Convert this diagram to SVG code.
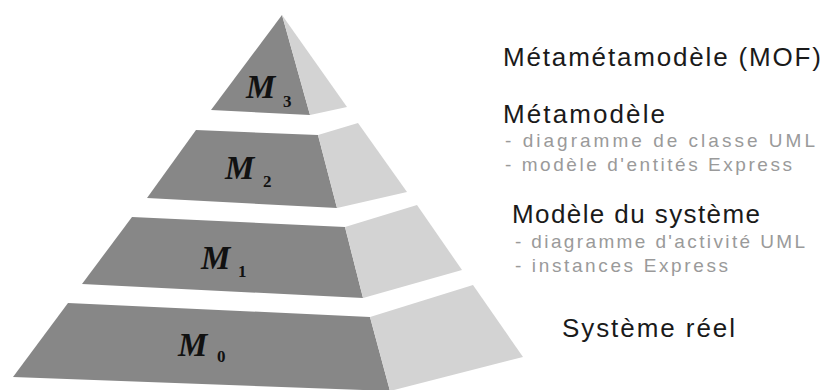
<svg xmlns="http://www.w3.org/2000/svg" width="827" height="390" viewBox="0 0 827 390">
<style>
.front{fill:#878787}
.side{fill:#d3d3d3}
.m{font-family:"Liberation Serif",serif;font-weight:bold;font-style:italic;font-size:33px;fill:#111}
.sub{font-family:"Liberation Serif",serif;font-weight:bold;font-size:17px;fill:#111}
.h{font-family:"Liberation Sans",Arial,sans-serif;font-size:26px;fill:#1a1a1a}
.s{font-family:"Liberation Sans",Arial,sans-serif;font-size:19px;fill:#9a9a9a}
</style>
<rect width="827" height="390" fill="#fff"/>
<g id="M3">
<polygon class="front" points="282,15 211,110 310,115"/>
<polygon class="side" points="282,15 310,115 347,107"/>
<text class="m" x="246" y="98">M</text><text class="sub" x="283" y="107">3</text>
</g>
<g id="M2">
<polygon class="front" points="196,130 318,135 337,208 147,198"/>
<polygon class="side" points="318,135 358,123 407,192 337,208"/>
<text class="m" x="225" y="179">M</text><text class="sub" x="263" y="187">2</text>
</g>
<g id="M1">
<polygon class="front" points="132,217 345,227 363,298 82,284"/>
<polygon class="side" points="345,227 417,205 462,270 363,298"/>
<text class="m" x="201" y="269">M</text><text class="sub" x="238" y="277">1</text>
</g>
<g id="M0">
<polygon class="front" points="68,303 370,317 390,391 13,377"/>
<polygon class="side" points="370,317 473,285 523,357 390,391"/>
<text class="m" x="178" y="356">M</text><text class="sub" x="217" y="362">0</text>
</g>
<g id="labels">
<text class="h" x="503" y="66" textLength="318" lengthAdjust="spacing">Métamétamodèle (MOF)</text>
<text class="h" x="503" y="123" textLength="162" lengthAdjust="spacing">Métamodèle</text>
<text class="s" x="505" y="147" textLength="310" lengthAdjust="spacing">- diagramme de classe UML</text>
<text class="s" x="505" y="171" textLength="287" lengthAdjust="spacing">- modèle d'entités Express</text>
<text class="h" x="512" y="223" textLength="248" lengthAdjust="spacing">Modèle du système</text>
<text class="s" x="515" y="248" textLength="290" lengthAdjust="spacing">- diagramme d'activité UML</text>
<text class="s" x="515" y="272" textLength="213" lengthAdjust="spacing">- instances Express</text>
<text class="h" x="562" y="337" textLength="173" lengthAdjust="spacing">Système réel</text>
</g>
</svg>
